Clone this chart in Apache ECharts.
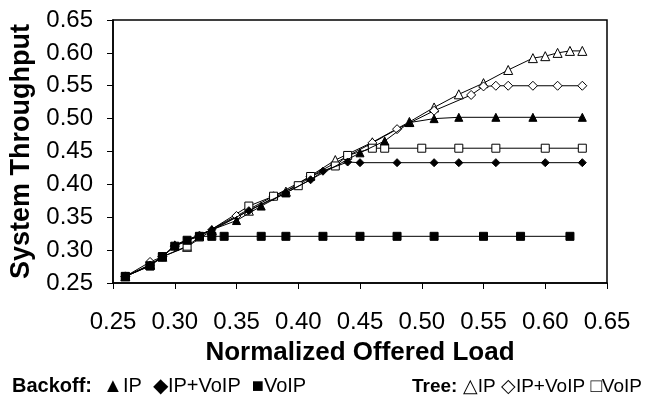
<!DOCTYPE html>
<html>
<head>
<meta charset="utf-8">
<script src="https://cdn.jsdelivr.net/npm/echarts@6/dist/echarts.min.js"></script>
<style>html,body{margin:0;padding:0;background:#fff}#c{width:645px;height:400px}</style>
</head>
<body>
<div id="c"></div>
<script>
// Tick labels
const xTicks = [0.25, 0.30, 0.35, 0.40, 0.45, 0.50, 0.55, 0.60, 0.65];
const yTicks = [0.25, 0.30, 0.35, 0.40, 0.45, 0.50, 0.55, 0.60, 0.65];

// Backoff: IP (filled triangle)
const backoffIP_x = [0.26, 0.28, 0.29, 0.30, 0.33, 0.35, 0.37, 0.39, 0.45, 0.47, 0.49, 0.51, 0.53, 0.56, 0.59, 0.63];
const backoffIP_y = [0.26, 0.277, 0.29, 0.308, 0.331, 0.345, 0.367, 0.387, 0.448, 0.466, 0.494, 0.500, 0.502, 0.502, 0.502, 0.502];

// Backoff: IP+VoIP (filled diamond)
const backoffIPVoIP_x = [0.26, 0.28, 0.29, 0.30, 0.33, 0.36, 0.39, 0.41, 0.42, 0.44, 0.45, 0.48, 0.51, 0.53, 0.56, 0.60, 0.63];
const backoffIPVoIP_y = [0.26, 0.277, 0.29, 0.307, 0.331, 0.36, 0.387, 0.407, 0.420, 0.434, 0.433, 0.433, 0.433, 0.433, 0.433, 0.433, 0.433];

// Backoff: VoIP (filled square)
const backoffVoIP_x = [0.26, 0.28, 0.29, 0.30, 0.31, 0.32, 0.33, 0.34, 0.37, 0.39, 0.42, 0.45, 0.48, 0.51, 0.55, 0.58, 0.62];
const backoffVoIP_y = [0.26, 0.276, 0.29, 0.306, 0.315, 0.321, 0.321, 0.321, 0.321, 0.321, 0.321, 0.321, 0.321, 0.321, 0.321, 0.321, 0.321];

// Tree: IP (open triangle)
const treeIP_x = [0.26, 0.28, 0.29, 0.31, 0.33, 0.36, 0.39, 0.43, 0.46, 0.49, 0.51, 0.53, 0.55, 0.57, 0.59, 0.60, 0.61, 0.62, 0.63];
const treeIP_y = [0.26, 0.278, 0.29, 0.305, 0.33, 0.36, 0.389, 0.437, 0.464, 0.495, 0.517, 0.537, 0.554, 0.574, 0.592, 0.595, 0.600, 0.603, 0.603];

// Tree: IP+VoIP (open diamond)
const treeIPVoIP_x = [0.26, 0.28, 0.29, 0.30, 0.32, 0.35, 0.38, 0.41, 0.44, 0.46, 0.48, 0.51, 0.54, 0.55, 0.56, 0.57, 0.59, 0.61, 0.63];
const treeIPVoIP_y = [0.26, 0.282, 0.29, 0.306, 0.322, 0.352, 0.382, 0.412, 0.443, 0.463, 0.484, 0.512, 0.536, 0.549, 0.550, 0.550, 0.550, 0.550, 0.550];

// Tree: VoIP (open square)
const treeVoIP_x = [0.26, 0.28, 0.29, 0.31, 0.32, 0.36, 0.38, 0.40, 0.41, 0.43, 0.44, 0.46, 0.47, 0.50, 0.53, 0.56, 0.60, 0.63];
const treeVoIP_y = [0.26, 0.276, 0.29, 0.306, 0.32, 0.367, 0.382, 0.398, 0.412, 0.428, 0.444, 0.455, 0.455, 0.455, 0.455, 0.455, 0.455, 0.455];

const zip = (xs, ys) => xs.map((x, i) => [x, ys[i]]);

function mkSeries(name, xs, ys, symbol, size, filled) {
  return {
    name: name,
    type: 'line',
    data: zip(xs, ys),
    symbol: symbol,
    symbolSize: size,
    showAllSymbol: true,
    lineStyle: { color: '#000', width: 1 },
    itemStyle: { color: filled ? '#000' : '#fff', borderColor: '#000', borderWidth: 1 },
    emphasis: { disabled: true },
    animation: false,
    z: filled ? 3 : 2
  };
}

const FONT = '"Liberation Sans", Arial, sans-serif';
const chart = echarts.init(document.getElementById('c'), null, { renderer: 'canvas' });
chart.setOption({
  backgroundColor: '#fff',
  animation: false,
  grid: { left: 113, right: 38, top: 20, bottom: 117, show: true, borderColor: '#000', borderWidth: 1.5, backgroundColor: 'transparent' },
  xAxis: {
    type: 'value', min: xTicks[0], max: xTicks[xTicks.length - 1], interval: 0.05,
    name: 'Normalized Offered Load', nameLocation: 'middle', nameGap: 57,
    nameTextStyle: { fontFamily: FONT, fontSize: 26, fontWeight: 'bold', color: '#000' },
    axisLine: { lineStyle: { color: '#000', width: 1.5 } },
    axisTick: { show: true, length: 6, lineStyle: { color: '#000' } },
    axisLabel: { fontFamily: FONT, fontSize: 24, color: '#000', margin: 27, formatter: v => v.toFixed(2) },
    splitLine: { show: false }
  },
  yAxis: {
    type: 'value', min: yTicks[0], max: yTicks[yTicks.length - 1], interval: 0.05,
    name: 'System Throughput', nameLocation: 'middle', nameGap: 78,
    nameTextStyle: { fontFamily: FONT, fontSize: 27, fontWeight: 'bold', color: '#000' },
    axisLine: { lineStyle: { color: '#000', width: 1.5 } },
    axisTick: { show: true, length: 6, lineStyle: { color: '#000' } },
    axisLabel: { fontFamily: FONT, fontSize: 24, color: '#000', margin: 20, formatter: v => v.toFixed(2) },
    splitLine: { show: false }
  },
  graphic: [{
    type: 'text', left: 12, top: 376,
    style: {
      text: '{b|Backoff:}  ▲IP  ◆IP+VoIP  ■VoIP',
      font: '20px ' + FONT, fill: '#000',
      rich: { b: { fontFamily: FONT, fontSize: 20, fontWeight: 'bold', fill: '#000' } }
    }
  }, {
    type: 'text', left: 412, top: 377,
    style: {
      text: '{b|Tree:} △IP ◇IP+VoIP □VoIP',
      font: '19px ' + FONT, fill: '#000',
      rich: { b: { fontFamily: FONT, fontSize: 19, fontWeight: 'bold', fill: '#000' } }
    }
  }],
  series: [
    mkSeries('Tree IP', treeIP_x, treeIP_y, 'triangle', 9, false),
    mkSeries('Tree IP+VoIP', treeIPVoIP_x, treeIPVoIP_y, 'diamond', 9, false),
    mkSeries('Tree VoIP', treeVoIP_x, treeVoIP_y, 'rect', 8, false),
    mkSeries('Backoff IP', backoffIP_x, backoffIP_y, 'triangle', 8, true),
    mkSeries('Backoff IP+VoIP', backoffIPVoIP_x, backoffIPVoIP_y, 'diamond', 8, true),
    mkSeries('Backoff VoIP', backoffVoIP_x, backoffVoIP_y, 'rect', 8, true)
  ]
});
</script>
</body>
</html>
